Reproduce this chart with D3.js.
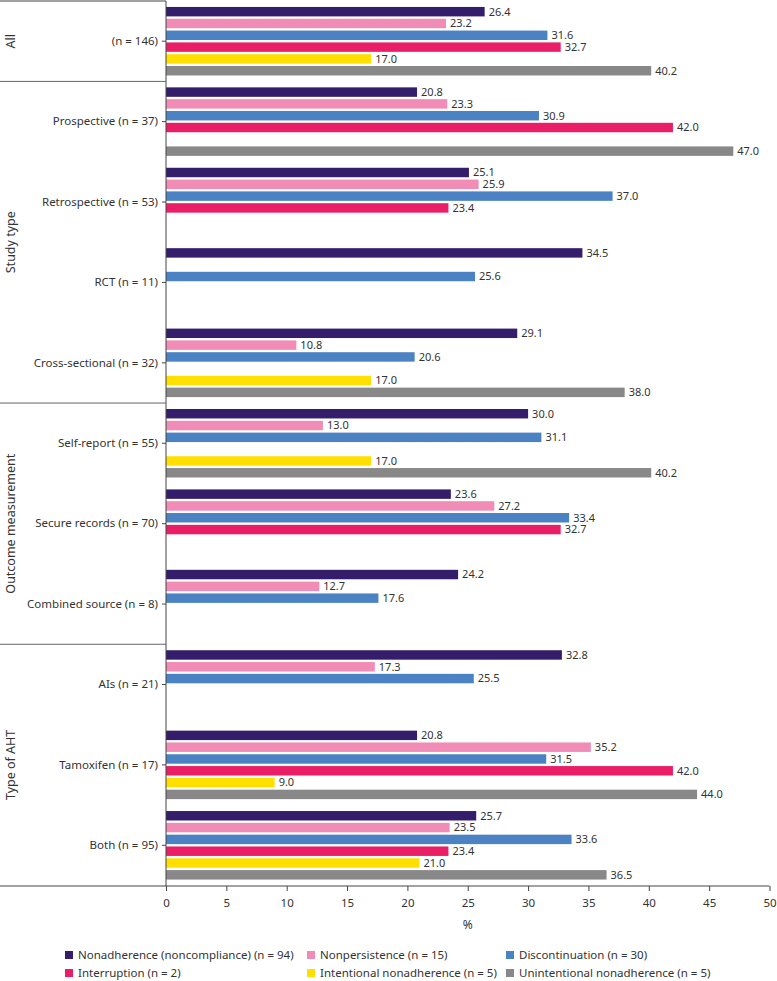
<!DOCTYPE html>
<html><head><meta charset="utf-8">
<script src="https://cdn.jsdelivr.net/npm/d3@7"></script>
<style>body{margin:0;background:#fff;} svg{display:block;} text{font-family:"Noto Sans",sans-serif;fill:#333;}</style>
</head><body><svg id="c" width="777" height="981"></svg>
<script>
const categories = ["(n = 146)","Prospective (n = 37)","Retrospective (n = 53)","RCT (n = 11)","Cross-sectional (n = 32)","Self-report (n = 55)","Secure records (n = 70)","Combined source (n = 8)","AIs (n = 21)","Tamoxifen (n = 17)","Both (n = 95)"];
const seriesNames = ["Nonadherence (noncompliance) (n = 94)","Nonpersistence (n = 15)","Discontinuation (n = 30)","Interruption (n = 2)","Intentional nonadherence (n = 5)","Unintentional nonadherence (n = 5)"];
const colors = ["#341d6b","#f08cb6","#4a82c3","#ea1e66","#ffdf00","#888888"];
const nonadherence   = [26.4,20.8,25.1,34.5,29.1,30.0,23.6,24.2,32.8,20.8,25.7];
const nonpersistence = [23.2,23.3,25.9,null,10.8,13.0,27.2,12.7,17.3,35.2,23.5];
const discontinuation= [31.6,30.9,37.0,25.6,20.6,31.1,33.4,17.6,25.5,31.5,33.6];
const interruption   = [32.7,42.0,23.4,null,null,null,32.7,null,null,42.0,23.4];
const intentional    = [17.0,null,null,null,17.0,17.0,null,null,null,9.0,21.0];
const unintentional  = [40.2,47.0,null,null,38.0,40.2,null,null,null,44.0,36.5];
const seriesValues = [nonadherence,nonpersistence,discontinuation,interruption,intentional,unintentional];
const groups = [{name:"All",from:0,to:0},{name:"Study type",from:1,to:4},{name:"Outcome measurement",from:5,to:7},{name:"Type of AHT",from:8,to:10}];
const xTicks = [0,5,10,15,20,25,30,35,40,45,50];

const svg = d3.select("#c");
const x = d3.scaleLinear().domain([0,50]).range([166,769.5]);
const y = d3.scaleBand().domain(categories).range([1,885.5]).padding(0);
const yi = d3.scaleBand().domain(d3.range(6)).paddingInner(0.2);

// bars
categories.forEach((c,ci)=>{
  const cen = y(c)+y.bandwidth()/2;
  yi.range([cen-34.25, cen+34.25]);
  seriesValues.forEach((vals,si)=>{
    const v = vals[ci];
    if(v==null) return;
    svg.append("rect").attr("x",x(0)).attr("y",yi(si)).attr("width",x(v)-x(0)).attr("height",yi.bandwidth())
      .attr("fill",colors[si]);
    svg.append("text").attr("x",x(v)+4).attr("y",yi(si)+yi.bandwidth()/2).attr("dy","0.35em")
      .attr("font-size",11).text(v.toFixed(1));
  });
});

// y axis
const yAxis = svg.append("g").attr("transform",`translate(${x(0)},0)`)
  .call(d3.axisLeft(y).tickSize(4).tickPadding(4));
yAxis.select(".domain").remove();
yAxis.selectAll(".tick line").attr("stroke","#444");
yAxis.selectAll("text").attr("font-size",11.5).attr("fill","#333").style("font-family","'Noto Sans',sans-serif");
svg.append("line").attr("x1",x(0)).attr("x2",x(0)).attr("y1",1).attr("y2",886).attr("stroke","#444");

// x axis
const xAxis = svg.append("g").attr("transform","translate(0,886)")
  .call(d3.axisBottom(x).tickValues(xTicks).tickSize(5).tickPadding(8));
xAxis.select(".domain").remove();
xAxis.selectAll(".tick line").attr("stroke","#444");
xAxis.selectAll("text").attr("font-size",11.5).attr("fill","#333").style("font-family","'Noto Sans',sans-serif");
svg.append("line").attr("x1",0).attr("x2",x(50)).attr("y1",886).attr("y2",886).attr("stroke","#444");
svg.append("text").attr("x",(x(0)+x(50))/2).attr("y",929).attr("text-anchor","middle").attr("font-size",12).text("%");

// group separators and labels
svg.append("line").attr("x1",0).attr("x2",x(0)).attr("y1",1).attr("y2",1).attr("stroke","#444");
groups.forEach((g,i)=>{
  const top = y(categories[g.from]);
  const bot = y(categories[g.to])+y.bandwidth();
  if(i>0) svg.append("line").attr("x1",0).attr("x2",x(0)).attr("y1",top).attr("y2",top).attr("stroke","#666");
  svg.append("text").attr("transform",`translate(15,${(top+bot)/2}) rotate(-90)`)
    .attr("text-anchor","middle").attr("font-size",12.5).text(g.name);
});

// legend
const legX = [65,307,506];
seriesNames.forEach((s,i)=>{
  const lx = legX[i%3], ly = 955 + Math.floor(i/3)*18;
  svg.append("rect").attr("x",lx).attr("y",ly-4).attr("width",8).attr("height",8).attr("fill",colors[i]);
  svg.append("text").attr("x",lx+13).attr("y",ly).attr("dy","0.35em").attr("font-size",11.5).text(s);
});
</script></body></html>
